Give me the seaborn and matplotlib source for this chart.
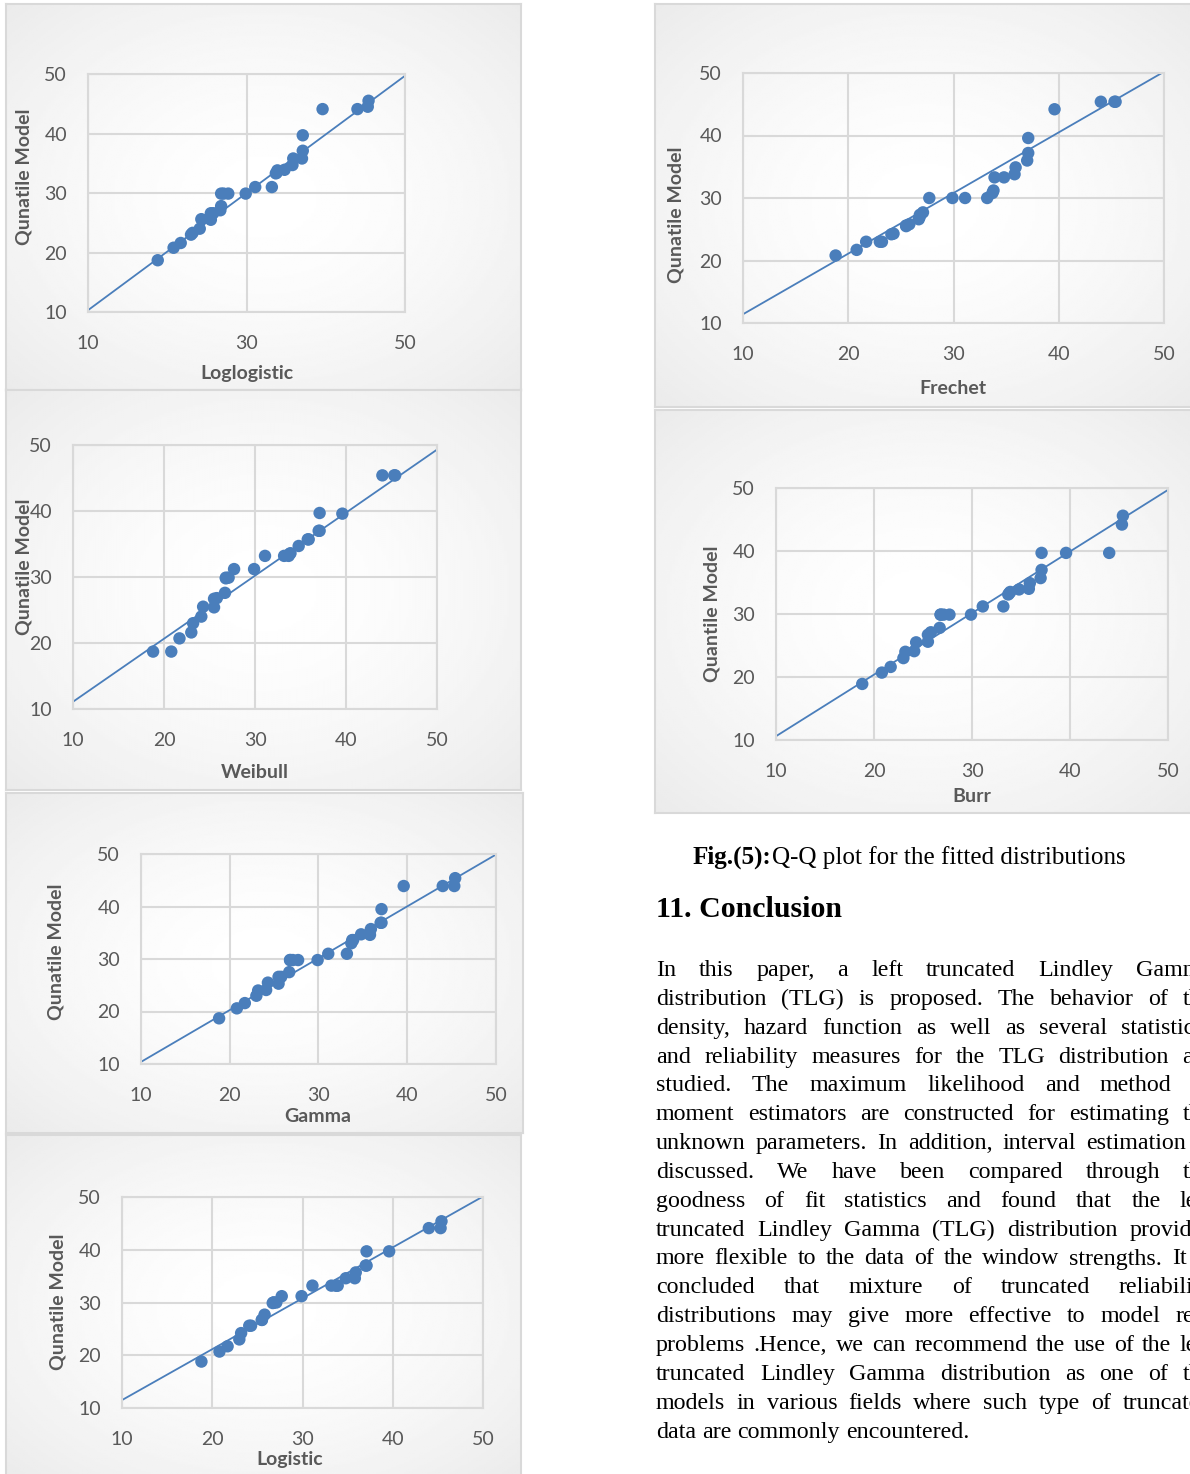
import numpy as np
import pandas as pd
import matplotlib.pyplot as plt
import seaborn as sns

LARGURA, ALTURA = 1190, 1474
AZUL = "#4a7ebb"
CINZA_TEXTO = "#595959"
CINZA_GRADE = "#d9d9d9"

# resistencia das janelas (eixo x, igual em todos os paineis)
resistencia = [18.8, 20.8, 21.7, 23.0, 23.2, 24.1, 24.3, 25.5, 25.5, 25.8, 26.7,
               26.8, 26.8, 27.1, 27.7, 29.9, 31.1, 33.2, 33.7, 33.8, 33.9, 34.8,
               35.8, 35.9, 37.0, 37.1, 37.1, 39.6, 44.0, 45.3, 45.4]

# quantis dos modelos (eixo y)
y_loglogistic = [18.7, 20.8, 21.6, 23.0, 23.3, 24.0, 25.6, 25.5, 26.6, 26.6, 27.1,
                 27.8, 29.9, 29.9, 29.9, 29.9, 31.0, 31.0, 33.3, 33.4, 33.8, 33.9,
                 34.7, 35.8, 35.8, 37.1, 39.7, 44.1, 44.1, 44.5, 45.5]
y_weibull = [18.7, 18.7, 20.7, 21.6, 23.0, 24.0, 25.5, 25.4, 26.7, 26.8, 27.6,
             29.8, 29.9, 29.9, 31.2, 31.2, 33.2, 33.2, 33.2, 33.5, 33.6, 34.7,
             35.7, 35.7, 37.0, 37.0, 39.7, 39.6, 45.4, 45.4, 45.4]
y_gamma = [18.7, 20.6, 21.6, 23.0, 24.0, 24.1, 25.5, 25.3, 26.6, 26.6, 27.5,
           29.8, 29.8, 29.8, 29.8, 29.8, 31.0, 31.0, 33.0, 33.6, 33.6, 34.7,
           34.6, 35.7, 36.9, 36.9, 39.5, 43.9, 43.9, 43.9, 45.4]
y_logistic = [18.8, 20.7, 21.7, 23.0, 24.2, 25.6, 25.6, 26.7, 26.7, 27.7, 29.9,
              30.0, 30.0, 30.0, 31.2, 31.2, 33.2, 33.2, 33.2, 33.2, 33.2, 34.6,
              34.6, 35.7, 37.0, 37.0, 39.7, 39.7, 44.1, 44.1, 45.4]
y_frechet = [20.8, 21.7, 23.0, 23.0, 23.0, 24.2, 24.3, 25.5, 25.6, 25.8, 26.6,
             27.0, 27.3, 27.7, 30.0, 30.0, 30.0, 30.0, 30.8, 31.2, 33.3, 33.3,
             33.8, 34.9, 36.0, 37.2, 39.6, 44.2, 45.4, 45.4, 45.4]
y_burr = [18.9, 20.7, 21.6, 23.0, 24.0, 24.1, 25.5, 25.6, 26.7, 27.1, 27.8,
          29.9, 29.9, 29.9, 29.9, 29.9, 31.2, 31.2, 33.1, 33.3, 33.5, 33.9,
          34.0, 34.9, 35.7, 37.0, 39.7, 39.7, 39.7, 44.2, 45.6]

# reta de referencia de cada painel: valor em x=10 e em x=50
reta_x = [10, 50]
reta_loglogistic = [10.3, 49.7]
reta_weibull = [11.1, 49.3]
reta_gamma = [10.4, 49.9]
reta_logistic = [11.5, 50.1]
reta_frechet = [11.4, 50.2]
reta_burr = [10.6, 49.7]

legenda = "Q-Q plot for the fitted distributions"
titulo_secao = "11. Conclusion"
linhas_conclusao = [
    "In this paper, a left truncated Lindley Gamma",
    "distribution (TLG) is proposed. The behavior of the",
    "density, hazard function as well as several statistical",
    "and reliability measures for the TLG distribution are",
    "studied. The maximum likelihood and method of",
    "moment estimators are constructed for estimating the",
    "unknown parameters. In addition, interval estimation is",
    "discussed. We have been compared through the",
    "goodness of fit statistics and found that the left",
    "truncated Lindley Gamma (TLG) distribution provides",
    "more flexible to the data of the window strengths. It is",
    "concluded that mixture of truncated reliability",
    "distributions may give more effective to model real",
    "problems .Hence, we can recommend the use of the left",
    "truncated Lindley Gamma  distribution as one of the",
    "models in various fields where such type of truncated",
    "data are commonly encountered.",
]

plt.rcParams["font.family"] = ["Lato", "DejaVu Sans"]

fig = plt.figure(figsize=(LARGURA / 100, ALTURA / 100), dpi=100)


def caixa(l, t, r, b):
    return [l / LARGURA, 1 - b / ALTURA, (r - l) / LARGURA, (b - t) / ALTURA]


def fundo(l, t, r, b):
    ax = fig.add_axes(caixa(l, t, r, b))
    yy, xx = np.mgrid[-1:1:200j, -1:1:200j]
    dist = np.sqrt(xx ** 2 + yy ** 2) / np.sqrt(2)
    ax.imshow(1 - 0.08 * dist ** 1.6, cmap="gray", vmin=0, vmax=1,
              aspect="auto", extent=[0, 1, 0, 1])
    ax.set_xticks([])
    ax.set_yticks([])
    for s in ax.spines.values():
        s.set_color(CINZA_GRADE)
        s.set_linewidth(1.5)


def painel(y, reta, nome, rotulo_y, fundo_px, area_px, xticks, pos_y, pos_x):
    fundo(*fundo_px)
    ax = fig.add_axes(caixa(*area_px))
    ax.set_facecolor("none")
    df = pd.DataFrame({"x": resistencia, "y": y})
    sns.lineplot(x=reta_x, y=reta, color=AZUL, lw=1.3, zorder=2, ax=ax)
    sns.scatterplot(data=df, x="x", y="y", s=80, color=AZUL, edgecolor="none",
                    zorder=3, ax=ax)
    ax.set_xlim(10, 50)
    ax.set_ylim(10, 50)
    ax.set_xticks(xticks)
    ax.set_yticks(range(10, 51, 10))
    ax.grid(True, color=CINZA_GRADE, lw=1.5)
    ax.set_axisbelow(True)
    for s in ax.spines.values():
        s.set_color(CINZA_GRADE)
        s.set_linewidth(1.5)
    ax.tick_params(axis="both", length=0, labelsize=14, labelcolor=CINZA_TEXTO)
    ax.tick_params(axis="y", pad=15)
    ax.tick_params(axis="x", pad=16.3)
    ax.set_xlabel("")
    ax.set_ylabel("")
    fig.text(pos_y[0] / LARGURA, 1 - pos_y[1] / ALTURA, rotulo_y, rotation=90,
             ha="center", va="center", fontsize=14, fontweight="bold", color=CINZA_TEXTO)
    fig.text(pos_x[0] / LARGURA, 1 - pos_x[1] / ALTURA, nome,
             ha="center", va="center", fontsize=14, fontweight="bold", color=CINZA_TEXTO)


dez = list(range(10, 51, 10))
painel(y_loglogistic, reta_loglogistic, "Loglogistic", "Qunatile Model",
       (6, 4, 521, 390), (88, 74, 405, 312), [10, 30, 50], (24, 177), (247, 374))
painel(y_weibull, reta_weibull, "Weibull", "Qunatile Model",
       (6, 390, 521, 790), (73, 445, 437, 709), dez, (24, 567), (255, 773))
painel(y_gamma, reta_gamma, "Gamma", "Qunatile Model",
       (6, 793, 523, 1133), (141, 854, 496, 1064), dez, (56, 952), (318, 1116))
painel(y_logistic, reta_logistic, "Logistic", "Qunatile Model",
       (6, 1135, 521, 1480), (122, 1197, 483, 1408), dez, (58, 1302), (290, 1459))
painel(y_frechet, reta_frechet, "Frechet", "Qunatile Model",
       (655, 4, 1192, 407), (743, 73, 1164, 323), dez, (676, 215), (953, 388))
painel(y_burr, reta_burr, "Burr", "Quantile Model",
       (655, 410, 1192, 813), (776, 488, 1168, 740), dez, (712, 614), (972, 796))

# texto da coluna direita
serif = ["Liberation Serif", "DejaVu Serif"]
renderer = fig.canvas.get_renderer()


def largura(t):
    return t.get_window_extent(renderer).width


t1 = fig.text(693 / LARGURA, 1 - 864 / ALTURA, "Fig.(5):", family=serif,
              fontsize=18.1, fontweight="bold", va="baseline")
fig.text((693 + largura(t1)) / LARGURA, 1 - 864 / ALTURA, legenda, family=serif,
         fontsize=18.1, va="baseline")
fig.text(656 / LARGURA, 1 - 917 / ALTURA, titulo_secao, family=serif,
         fontsize=21.5, fontweight="bold", va="baseline")

x0, x1 = 656, 1212
for i, linha in enumerate(linhas_conclusao):
    base = 976 + i * 28.85
    palavras = linha.split()
    textos = [fig.text(0, 1 - base / ALTURA, p, family=serif, fontsize=17.3,
                       va="baseline") for p in palavras]
    larguras = [largura(t) for t in textos]
    if i < len(linhas_conclusao) - 1:
        espaco = (x1 - x0 - sum(larguras)) / (len(palavras) - 1)
    else:
        espaco = 0.25 * 17.3 * 100 / 72
    x = x0
    for t, w in zip(textos, larguras):
        t.set_x(x / LARGURA)
        x += w + espaco

fig.savefig("out.png", dpi=100)
